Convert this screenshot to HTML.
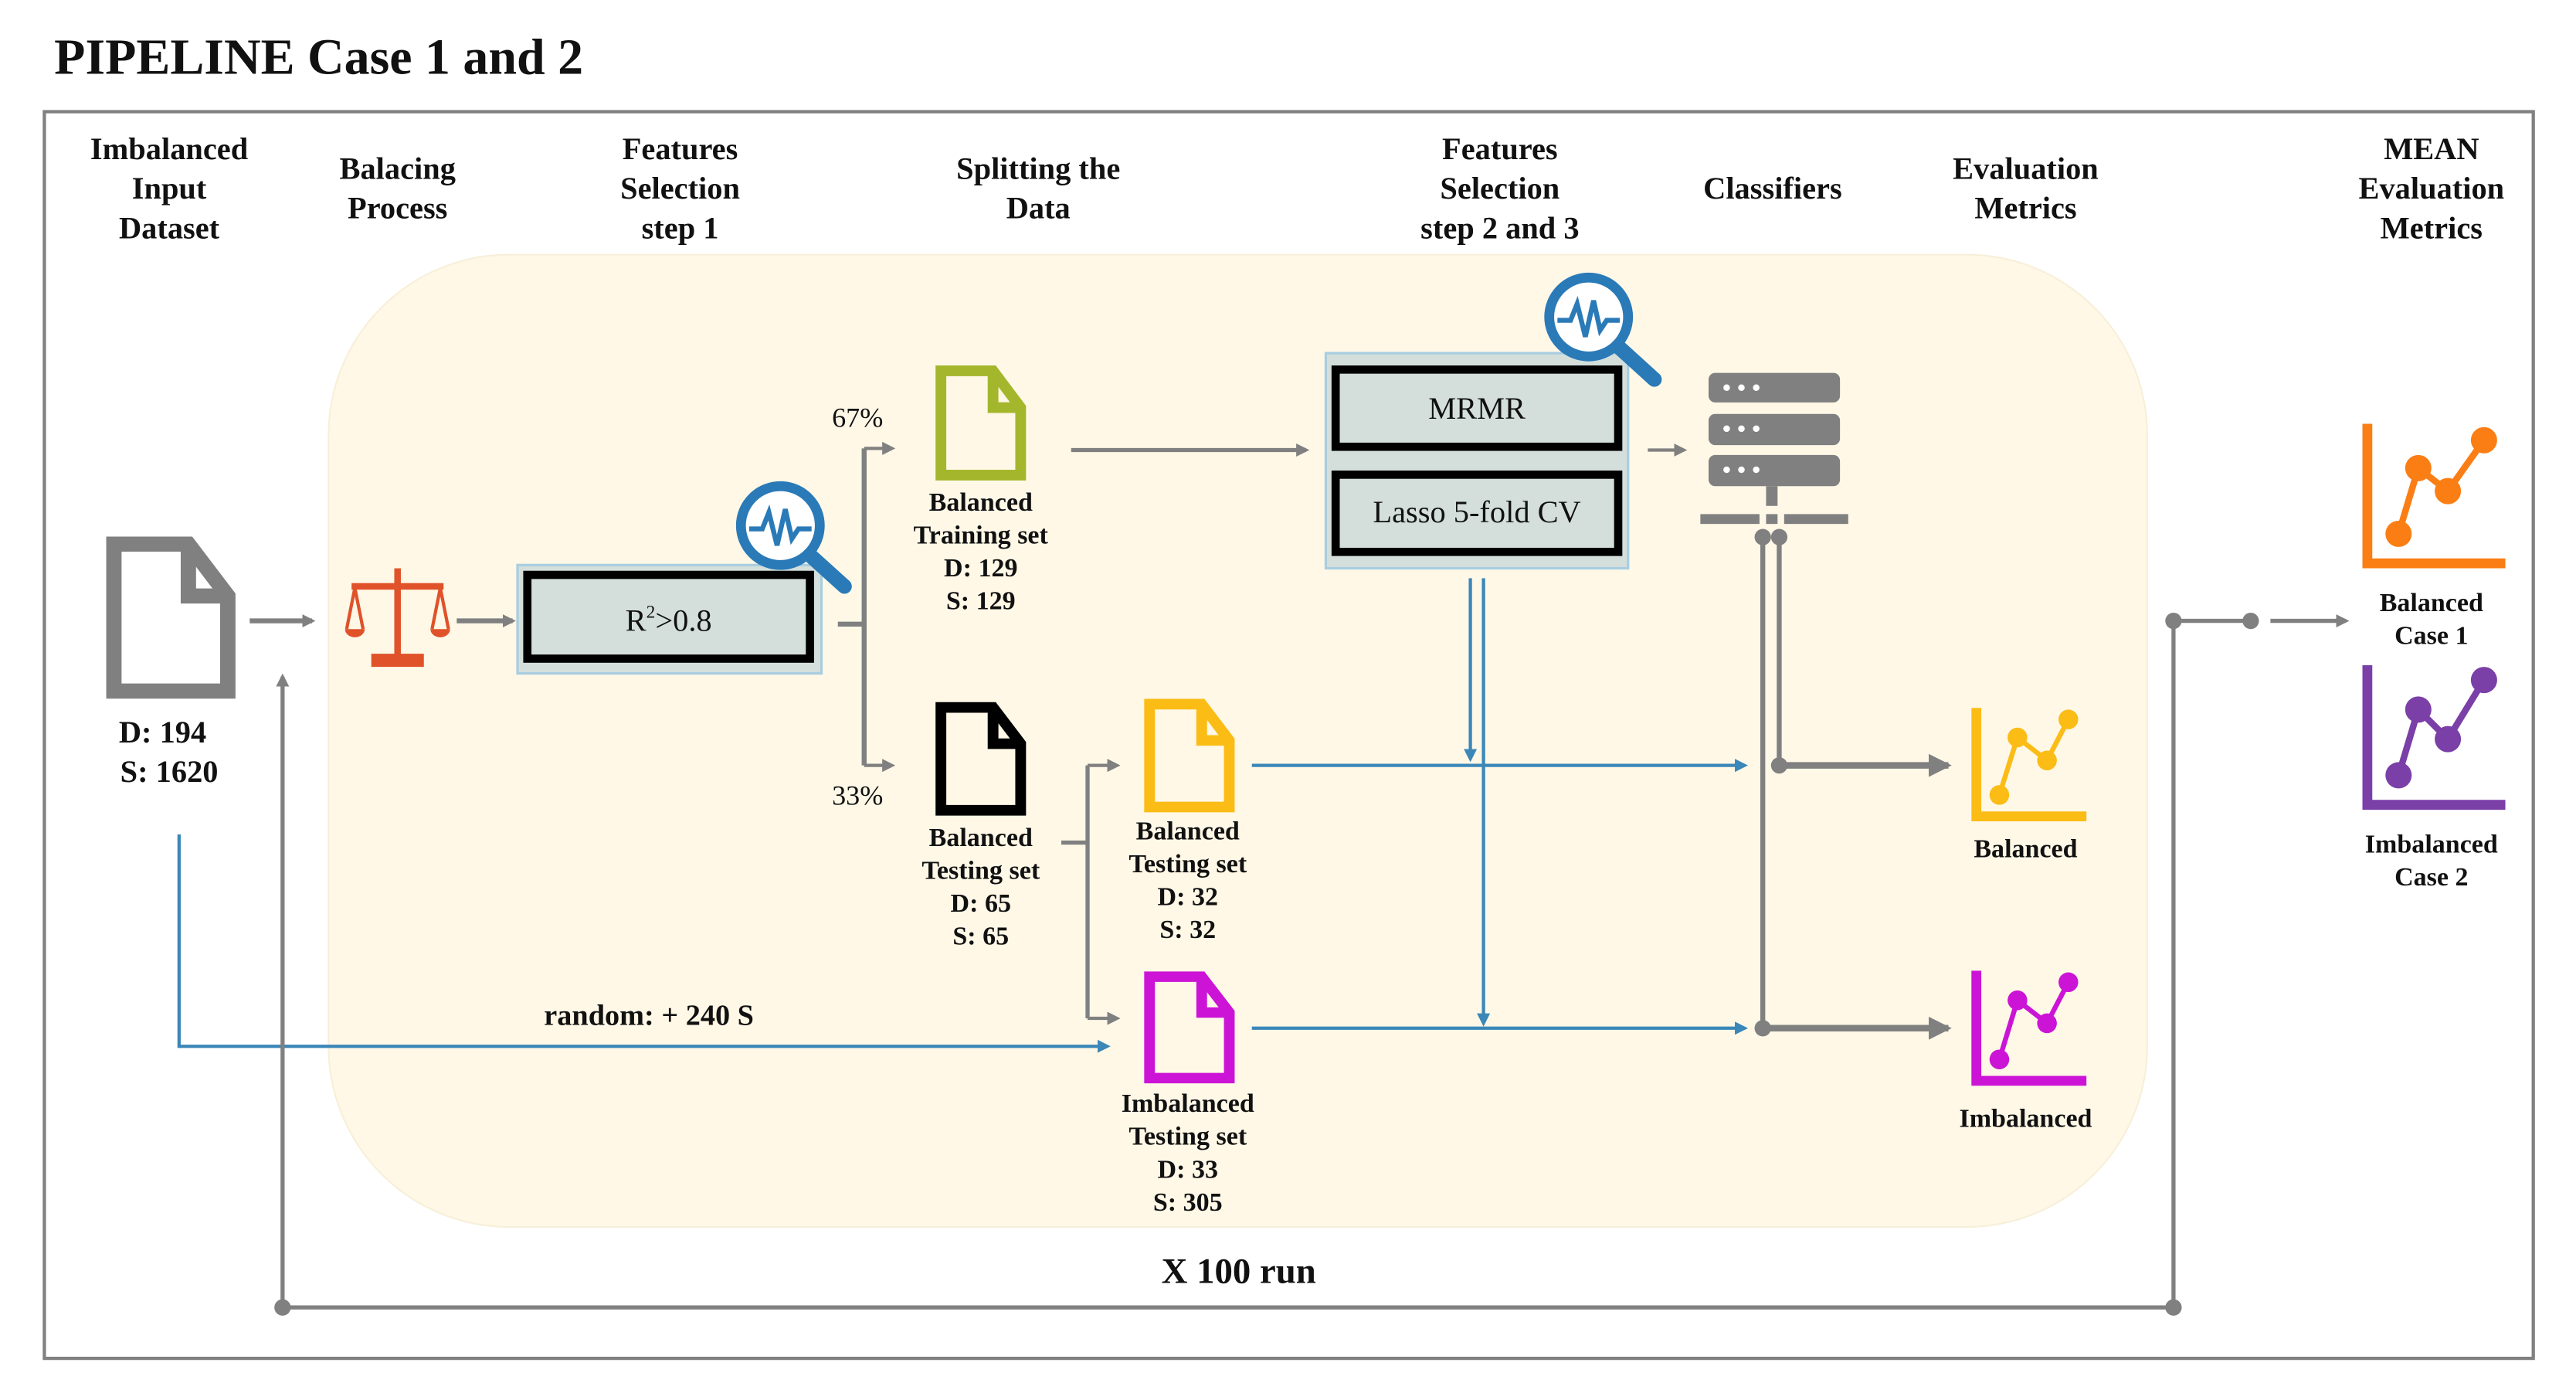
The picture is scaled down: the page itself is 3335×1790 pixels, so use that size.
<!DOCTYPE html>
<html><head><meta charset="utf-8"><style>
html,body{margin:0;padding:0;background:#fff;}
svg{display:block;}
text{font-family:"Liberation Serif",serif;font-weight:bold;fill:#111;}
</style></head><body>
<svg width="3335" height="1790" viewBox="0 0 1568 842" preserveAspectRatio="none" xmlns="http://www.w3.org/2000/svg">
<defs>
<marker id="ag" markerWidth="8" markerHeight="8" refX="6" refY="4" orient="auto" markerUnits="userSpaceOnUse"><path d="M0,0 L8,4 L0,8 Z" fill="#808080"/></marker>
<marker id="agb" markerWidth="14" markerHeight="14" refX="12" refY="7" orient="auto" markerUnits="userSpaceOnUse"><path d="M0,0 L14,7 L0,14 Z" fill="#808080"/></marker>
<marker id="ab" markerWidth="8" markerHeight="8" refX="6" refY="4" orient="auto" markerUnits="userSpaceOnUse"><path d="M0,0 L8,4 L0,8 Z" fill="#3a87b8"/></marker>
<symbol id="doc" viewBox="0 0 60 76"><path d="M4,4 H38 L56,28 V72 H4 Z" fill="none" stroke-width="7" stroke-linejoin="miter"/><path d="M38,4 V28 H56" fill="none" stroke-width="7"/></symbol>
</defs>
<text x="33" y="45" font-size="31" style="font-weight:bold">PIPELINE Case 1 and 2</text>
<rect x="27" y="68" width="1515" height="759" fill="none" stroke="#808080" stroke-width="2"/>
<g font-size="19" text-anchor="middle">
<text x="103" y="97">Imbalanced</text><text x="103" y="121">Input</text><text x="103" y="145">Dataset</text>
<text x="242" y="109">Balacing</text><text x="242" y="133">Process</text>
<text x="414" y="97">Features</text><text x="414" y="121">Selection</text><text x="414" y="145">step 1</text>
<text x="632" y="109">Splitting  the</text><text x="632" y="133">Data</text>
<text x="913" y="97">Features</text><text x="913" y="121">Selection</text><text x="913" y="145">step 2 and 3</text>
<text x="1079" y="121">Classifiers</text>
<text x="1233" y="109">Evaluation</text><text x="1233" y="133">Metrics</text>
<text x="1480" y="97">MEAN</text><text x="1480" y="121">Evaluation</text><text x="1480" y="145">Metrics</text>
</g>
<rect x="200" y="155" width="1107" height="592" rx="110" fill="#fff8e7" stroke="#f7efd8" stroke-width="1"/>
<g stroke="#808080"><svg x="64" y="326" width="80" height="100" viewBox="0 0 60 76" preserveAspectRatio="none"><use href="#doc"/></svg></g>
<g font-size="19" text-anchor="middle"><text x="99" y="452">D: 194</text><text x="103" y="476">S: 1620</text></g>
<line x1="152" y1="378" x2="190" y2="378" stroke="#808080" stroke-width="3" marker-end="url(#ag)"/>
<g fill="#e0522a" stroke="#e0522a">
<rect x="240" y="346" width="4" height="55" stroke="none"/><rect x="226" y="398" width="32" height="8" stroke="none"/>
<rect x="214" y="355" width="56" height="4" stroke="none"/>
<path d="M216,358 L211,383 M216,358 L221,383 M268,358 L263,383 M268,358 L273,383" stroke-width="2" fill="none"/>
<path d="M210,383 H222 A6,5 0 0 1 210,383 Z M262,383 H274 A6,5 0 0 1 262,383 Z" stroke="none"/>
</g>
<line x1="278" y1="378" x2="312" y2="378" stroke="#808080" stroke-width="3" marker-end="url(#ag)"/>
<rect x="315" y="344" width="185" height="66" fill="#d4dfdb" stroke="#a8cde0" stroke-width="1.5"/>
<rect x="321" y="350" width="172" height="51" fill="#d4dfdb" stroke="#000" stroke-width="5"/>
<text x="407" y="384" font-size="19" text-anchor="middle" style="font-weight:normal">R<tspan font-size="11" dy="-8">2</tspan><tspan dy="8">&gt;0.8</tspan></text>
<g stroke="#2a7ab8" fill="none"><circle cx="475" cy="320" r="24" stroke-width="6" fill="#fff"/><line x1="493" y1="338" x2="514" y2="357" stroke-width="9" stroke-linecap="round"/><path d="M456,322 H464 L468,312 L473,332 L478,310 L482,328 L486,322 H494" stroke-width="3"/></g>
<path d="M510,380 H526 M526,273 V466" stroke="#808080" stroke-width="3" fill="none"/>
<line x1="526" y1="273" x2="543" y2="273" stroke="#808080" stroke-width="2" marker-end="url(#ag)"/>
<line x1="526" y1="466" x2="543" y2="466" stroke="#808080" stroke-width="2" marker-end="url(#ag)"/>
<g font-size="17" text-anchor="middle"><text x="522" y="260" style="font-weight:normal">67%</text><text x="522" y="490" style="font-weight:normal">33%</text></g>
<g stroke="#a4b72c"><svg x="569" y="222" width="56" height="71" viewBox="0 0 60 76" preserveAspectRatio="none"><use href="#doc"/></svg></g>
<g font-size="16" text-anchor="middle"><text x="597" y="311">Balanced</text><text x="597" y="331">Training set</text><text x="597" y="351">D: 129</text><text x="597" y="371">S: 129</text></g>
<line x1="652" y1="274" x2="795" y2="274" stroke="#808080" stroke-width="2.5" marker-end="url(#ag)"/>
<g stroke="#000"><svg x="569" y="427" width="56" height="70" viewBox="0 0 60 76" preserveAspectRatio="none"><use href="#doc"/></svg></g>
<g font-size="16" text-anchor="middle"><text x="597" y="515">Balanced</text><text x="597" y="535">Testing set</text><text x="597" y="555">D: 65</text><text x="597" y="575">S: 65</text></g>
<path d="M646,513 H662 M662,466 V620" stroke="#808080" stroke-width="2.5" fill="none"/>
<line x1="662" y1="466" x2="680" y2="466" stroke="#808080" stroke-width="2" marker-end="url(#ag)"/>
<line x1="662" y1="620" x2="680" y2="620" stroke="#808080" stroke-width="2" marker-end="url(#ag)"/>
<g stroke="#fbbc16"><svg x="696" y="425" width="56" height="70" viewBox="0 0 60 76" preserveAspectRatio="none"><use href="#doc"/></svg></g>
<g font-size="16" text-anchor="middle"><text x="723" y="511">Balanced</text><text x="723" y="531">Testing set</text><text x="723" y="551">D: 32</text><text x="723" y="571">S: 32</text></g>
<g stroke="#cc14d6"><svg x="696" y="591" width="56" height="69" viewBox="0 0 60 76" preserveAspectRatio="none"><use href="#doc"/></svg></g>
<g font-size="16" text-anchor="middle"><text x="723" y="677">Imbalanced</text><text x="723" y="697">Testing set</text><text x="723" y="717">D: 33</text><text x="723" y="737">S: 305</text></g>
<path d="M109,508 V637 H674" stroke="#3a87b8" stroke-width="2" fill="none" marker-end="url(#ab)"/>
<text x="395" y="624" font-size="18" text-anchor="middle">random: + 240 S</text>
<rect x="807" y="215" width="184" height="131" fill="#d4dfdb" stroke="#a8cde0" stroke-width="1.5"/>
<rect x="813" y="225" width="172" height="47" fill="#d4dfdb" stroke="#000" stroke-width="5"/>
<rect x="813" y="289" width="172" height="47" fill="#d4dfdb" stroke="#000" stroke-width="5"/>
<text x="899" y="255" font-size="19" text-anchor="middle" style="font-weight:normal">MRMR</text>
<text x="899" y="318" font-size="19" text-anchor="middle" style="font-weight:normal">Lasso 5-fold CV</text>
<g stroke="#2a7ab8" fill="none"><circle cx="967" cy="193" r="24" stroke-width="6" fill="#fff"/><line x1="985" y1="211" x2="1007" y2="231" stroke-width="9" stroke-linecap="round"/><path d="M948,195 H956 L960,185 L965,205 L970,183 L974,201 L978,195 H986" stroke-width="3"/></g>
<line x1="1003" y1="274" x2="1025" y2="274" stroke="#808080" stroke-width="2" marker-end="url(#ag)"/>
<g fill="#808080">
<rect x="1040" y="227" width="80" height="18" rx="4"/><rect x="1040" y="252" width="80" height="19" rx="4"/><rect x="1040" y="277" width="80" height="19" rx="4"/>
<rect x="1075" y="296" width="7" height="12"/>
<rect x="1035" y="313" width="36" height="6"/><rect x="1075" y="313" width="7" height="6"/><rect x="1086" y="313" width="39" height="6"/>
</g>
<g fill="#fff"><circle cx="1051" cy="236" r="2"/><circle cx="1060" cy="236" r="2"/><circle cx="1069" cy="236" r="2"/><circle cx="1051" cy="261" r="2"/><circle cx="1060" cy="261" r="2"/><circle cx="1069" cy="261" r="2"/><circle cx="1051" cy="286" r="2"/><circle cx="1060" cy="286" r="2"/><circle cx="1069" cy="286" r="2"/></g>
<line x1="895" y1="352" x2="895" y2="462" stroke="#3a87b8" stroke-width="2" marker-end="url(#ab)"/>
<line x1="903" y1="352" x2="903" y2="623" stroke="#3a87b8" stroke-width="2" marker-end="url(#ab)"/>
<line x1="762" y1="466" x2="1062" y2="466" stroke="#3a87b8" stroke-width="2" marker-end="url(#ab)"/>
<line x1="762" y1="626" x2="1062" y2="626" stroke="#3a87b8" stroke-width="2" marker-end="url(#ab)"/>
<path d="M1073,326 V626 M1083,326 V466" stroke="#808080" stroke-width="3" fill="none"/>
<g fill="#808080"><circle cx="1073" cy="327" r="5"/><circle cx="1083" cy="327" r="5"/><circle cx="1083" cy="466" r="5"/><circle cx="1073" cy="626" r="5"/></g>
<line x1="1083" y1="466" x2="1186" y2="466" stroke="#808080" stroke-width="4" marker-end="url(#agb)"/>
<line x1="1073" y1="626" x2="1186" y2="626" stroke="#808080" stroke-width="4" marker-end="url(#agb)"/>
<g fill="#fbbc16" stroke="#fbbc16">
<path d="M1203,431 V497 H1270" fill="none" stroke-width="6"/>
<polyline points="1217,484 1228,449 1246,463 1259,438" fill="none" stroke-width="3"/>
<circle cx="1217" cy="484" r="6" stroke="none"/><circle cx="1228" cy="449" r="6" stroke="none"/><circle cx="1246" cy="463" r="6" stroke="none"/><circle cx="1259" cy="438" r="6" stroke="none"/>
</g>
<text x="1233" y="522" font-size="16" text-anchor="middle">Balanced</text>
<g fill="#cc14d6" stroke="#cc14d6">
<path d="M1203,591 V658 H1270" fill="none" stroke-width="6"/>
<polyline points="1217,645 1228,609 1246,623 1259,598" fill="none" stroke-width="3"/>
<circle cx="1217" cy="645" r="6" stroke="none"/><circle cx="1228" cy="609" r="6" stroke="none"/><circle cx="1246" cy="623" r="6" stroke="none"/><circle cx="1259" cy="598" r="6" stroke="none"/>
</g>
<text x="1233" y="686" font-size="16" text-anchor="middle">Imbalanced</text>
<g fill="#fb7e14" stroke="#fb7e14">
<path d="M1441,258 V343 H1525" fill="none" stroke-width="6"/>
<polyline points="1460,325 1472,285 1490,299 1512,268" fill="none" stroke-width="4"/>
<circle cx="1460" cy="325" r="8" stroke="none"/><circle cx="1472" cy="285" r="8" stroke="none"/><circle cx="1490" cy="299" r="8" stroke="none"/><circle cx="1512" cy="268" r="8" stroke="none"/>
</g>
<text x="1480" y="372" font-size="16" text-anchor="middle">Balanced</text><text x="1480" y="392" font-size="16" text-anchor="middle">Case 1</text>
<g fill="#7b3fa8" stroke="#7b3fa8">
<path d="M1441,405 V490 H1525" fill="none" stroke-width="6"/>
<polyline points="1460,472 1472,432 1490,450 1512,414" fill="none" stroke-width="4"/>
<circle cx="1460" cy="472" r="8" stroke="none"/><circle cx="1472" cy="432" r="8" stroke="none"/><circle cx="1490" cy="450" r="8" stroke="none"/><circle cx="1512" cy="414" r="8" stroke="none"/>
</g>
<text x="1480" y="519" font-size="16" text-anchor="middle">Imbalanced</text><text x="1480" y="539" font-size="16" text-anchor="middle">Case 2</text>
<path d="M1323,378 V796 H172 V412" stroke="#808080" stroke-width="2.5" fill="none" marker-end="url(#ag)"/>
<line x1="1323" y1="378" x2="1370" y2="378" stroke="#808080" stroke-width="2.5"/>
<line x1="1382" y1="378" x2="1428" y2="378" stroke="#808080" stroke-width="2.5" marker-end="url(#ag)"/>
<g fill="#808080"><circle cx="1323" cy="378" r="5"/><circle cx="1370" cy="378" r="5"/><circle cx="1323" cy="796" r="5"/><circle cx="172" cy="796" r="5"/></g>
<text x="754" y="781" font-size="22" text-anchor="middle">X 100 run</text>
</svg>
</body></html>
